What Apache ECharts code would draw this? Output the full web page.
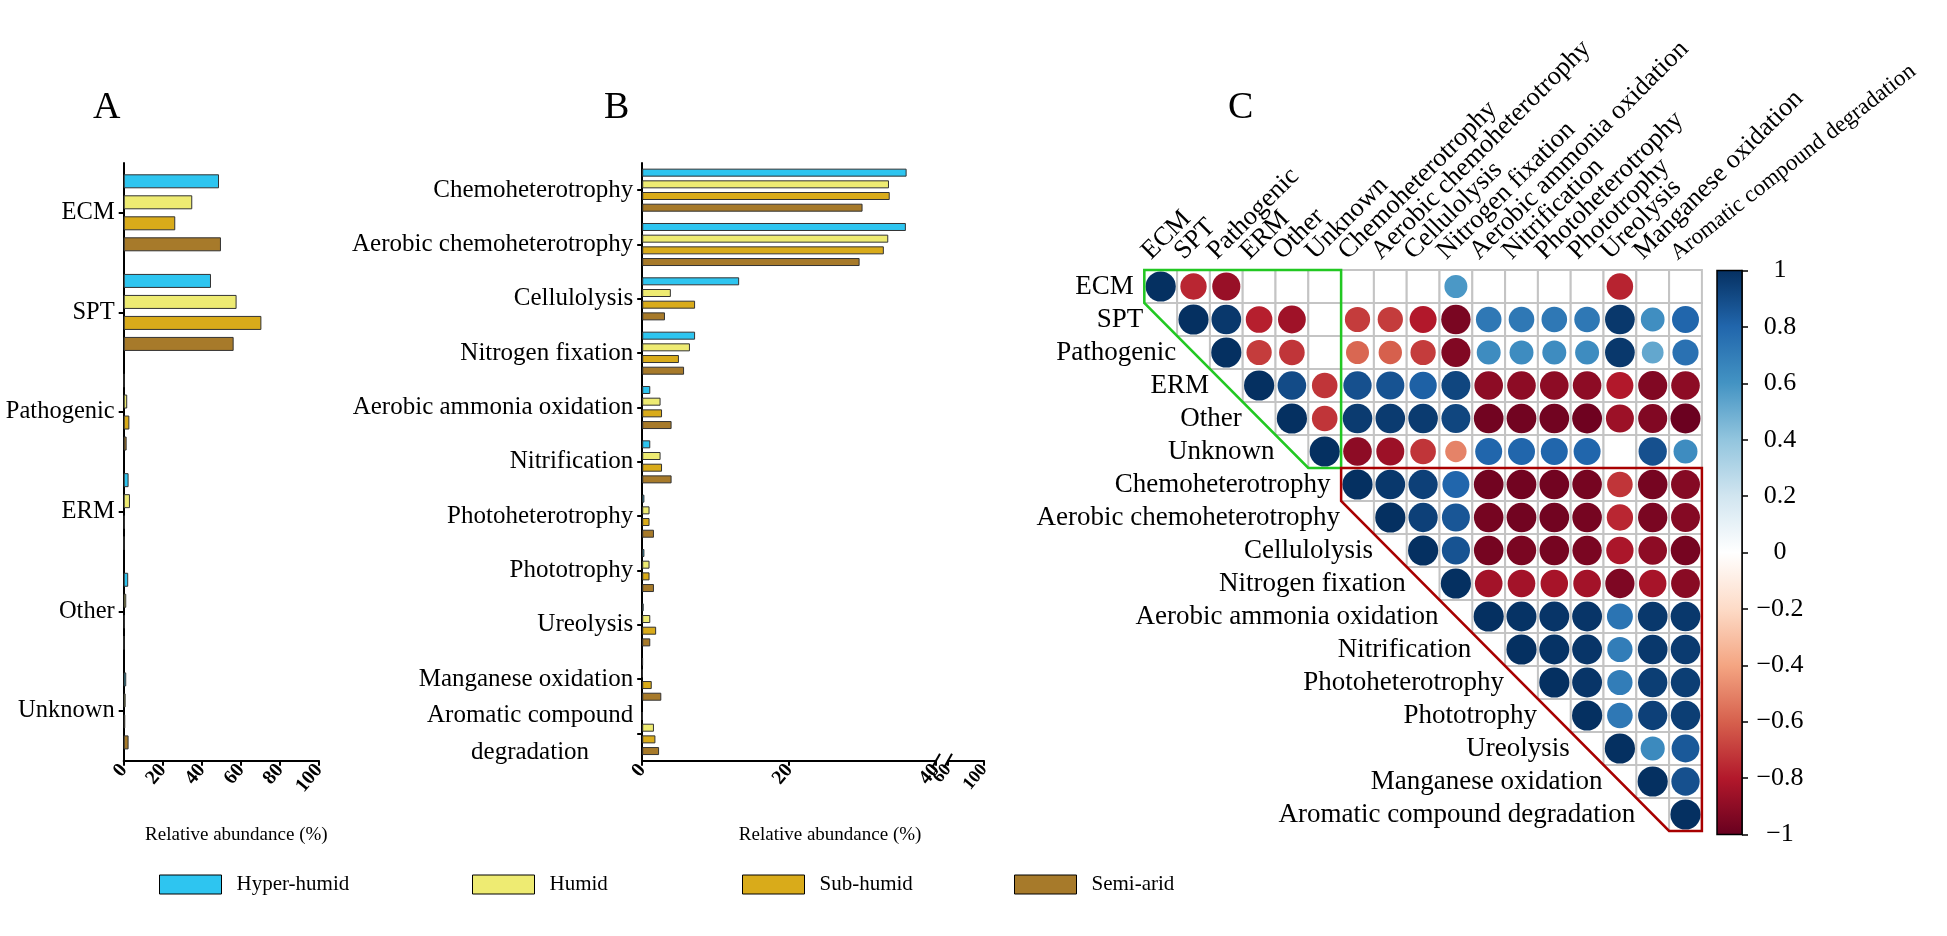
<!DOCTYPE html>
<html><head><meta charset="utf-8">
<script src="https://cdn.jsdelivr.net/npm/echarts@6/dist/echarts.min.js"></script>
<style>html,body{margin:0;padding:0;background:#fff}#chart{width:1947px;height:936px}</style>
</head><body><div id="chart"></div>
<script>
// ---------------- data ----------------
const seriesNames = ['Hyper-humid', 'Humid', 'Sub-humid', 'Semi-arid'];
const seriesColors = ['#2ec5f0', '#eeeb72', '#d9ab1a', '#a77a2a'];

// Panel A
const catsA = ['ECM', 'SPT', 'Pathogenic', 'ERM', 'Other', 'Unknown'];
const hyperA = [48.8, 44.7, 0.3, 2.5, 2.3, 1.3];
const humidA = [35.1, 57.8, 1.8, 3.2, 1.3, 1.0];
const subA   = [26.4, 70.5, 2.9, 0.5, 0.5, 0.8];
const semiA  = [49.8, 56.3, 1.5, 0.3, 0.2, 2.5];
const ticksA = [0, 100, 20];          // min, max, step

// Panel B
const catsB = ['Chemoheterotrophy', 'Aerobic chemoheterotrophy', 'Cellulolysis', 'Nitrogen fixation',
  'Aerobic ammonia oxidation', 'Nitrification', 'Photoheterotrophy', 'Phototrophy', 'Ureolysis',
  'Manganese oxidation', 'Aromatic compound\ndegradation'];
const hyperB = [36.0, 35.9, 13.2, 7.2, 1.1, 1.1, 0.3, 0.3, 0.2, 0.1, 0];
const humidB = [33.6, 33.5, 3.9, 6.5, 2.5, 2.5, 1.0, 1.0, 1.1, 0, 1.6];
const subB   = [33.7, 32.9, 7.2, 5.0, 2.7, 2.7, 1.0, 1.0, 1.9, 1.3, 1.8];
const semiB  = [30.0, 29.6, 3.1, 5.7, 4.0, 4.0, 1.6, 1.6, 1.1, 2.6, 2.3];
const ticksB1 = [0, 40, 20];
const ticksB2 = [60, 100, 20];

// Panel C (upper triangle, each row starts at its diagonal; null = blank cell)
const corrNames = ['ECM', 'SPT', 'Pathogenic', 'ERM', 'Other', 'Unknown',
  'Chemoheterotrophy', 'Aerobic chemoheterotrophy', 'Cellulolysis', 'Nitrogen fixation',
  'Aerobic ammonia oxidation', 'Nitrification', 'Photoheterotrophy', 'Phototrophy', 'Ureolysis',
  'Manganese oxidation', 'Aromatic compound degradation'];
const corrRows = [
  [1, -0.76, -0.87, null, null, null, null, null, null, 0.58, null, null, null, null, -0.77, null, null],
  [1, 0.97, -0.78, -0.85, null, -0.7, -0.7, -0.8, -0.95, 0.72, 0.72, 0.72, 0.72, 0.97, 0.62, 0.8],
  [1, -0.7, -0.72, null, -0.58, -0.6, -0.7, -0.93, 0.63, 0.63, 0.63, 0.63, 0.97, 0.52, 0.75],
  [1, 0.9, -0.72, 0.88, 0.87, 0.82, 0.92, -0.9, -0.9, -0.9, -0.9, -0.8, -0.93, -0.9],
  [1, -0.72, 0.96, 0.96, 0.96, 0.92, -0.97, -0.97, -0.97, -0.98, -0.86, -0.93, -0.99],
  [1, -0.9, -0.86, -0.72, -0.5, 0.8, 0.8, 0.8, 0.8, null, 0.88, 0.63],
  [1, 0.97, 0.94, 0.8, -0.97, -0.97, -0.97, -0.96, -0.72, -0.96, -0.92],
  [1, 0.94, 0.86, -0.96, -0.97, -0.97, -0.96, -0.76, -0.95, -0.92],
  [1, 0.87, -0.96, -0.95, -0.96, -0.95, -0.82, -0.9, -0.96],
  [1, -0.84, -0.84, -0.83, -0.84, -0.94, -0.83, -0.91],
  [1, 0.99, 0.98, 0.98, 0.74, 0.97, 0.97],
  [1, 0.99, 0.98, 0.7, 0.97, 0.96],
  [1, 0.98, 0.7, 0.95, 0.95],
  [1, 0.72, 0.94, 0.95],
  [1, 0.64, 0.85],
  [1, 0.88],
  [1]
];
const groupASize = catsA.length;
const corrTicks = [-1, 1, 0.2];
const rdbu = ['#67001F', '#B2182B', '#D6604D', '#F4A582', '#FDDBC7', '#FFFFFF',
  '#D1E5F0', '#92C5DE', '#4393C3', '#2166AC', '#053061'];

// ---------------- layout / style ----------------
const SERIF = '"Liberation Serif", "Times New Roman", serif';
const gA = {left: 123.7, top: 163, width: 195.3, height: 597.7};
const gB1 = {left: 642.2, top: 163, width: 293.8, height: 597.7};
const gB2 = {left: 948, top: 163, width: 36, height: 597.7};
const gC = {left: 1144.3, top: 270, width: 557.6, height: 561};
const gCB = {left: 1717, top: 270.6, width: 25, height: 563.8};
const legendLefts = [159, 472, 742, 1014];

const cellData = [], circleData = [];
corrRows.forEach((row, r) => row.forEach((v, k) => {
  const c = r + k;
  cellData.push([c, r]);
  if (v !== null) circleData.push([c, r, v]);
}));

const axisLineBlack = {show: true, lineStyle: {color: '#000', width: 2}};
const tickLabelBold = {fontFamily: SERIF, fontWeight: 'bold', fontSize: 20, color: '#000', rotate: 50, margin: 6,
  showMinLabel: true, showMaxLabel: true, hideOverlap: false};

function barSeries(name, color, data, xi, bw, gap) {
  return {
    type: 'bar', name: name, data: data, xAxisIndex: xi, yAxisIndex: xi,
    barWidth: bw, barGap: gap,
    itemStyle: {color: color, borderColor: '#333', borderWidth: 1},
    emphasis: {disabled: true}, animation: false
  };
}

function edgePt(api, k, m) {
  const o = api.coord([0, 0]);
  const s = api.size([1, 1]);
  return [o[0] - s[0] / 2 + k * s[0], o[1] - s[1] / 2 + m * s[1]];
}

const N = corrNames.length, n = groupASize;
const letterStyle = {fontFamily: SERIF, fontSize: 38, fontWeight: 'normal', color: '#000'};

const option = {
  animation: false,
  backgroundColor: '#fff',
  title: [
    {text: 'A', left: 93, top: 89, padding: 0, textStyle: letterStyle},
    {text: 'B', left: 604, top: 89, padding: 0, textStyle: letterStyle},
    {text: 'C', left: 1228, top: 89, padding: 0, textStyle: letterStyle}
  ],
  legend: seriesNames.map((nm, i) => ({
    data: [nm], left: legendLefts[i], top: 874, padding: 0, icon: 'rect', itemWidth: 62, itemHeight: 19,
    itemStyle: {borderColor: '#000', borderWidth: 1},
    textStyle: {fontFamily: SERIF, fontSize: 21, color: '#000', padding: [0, 0, 0, 10]},
    selectedMode: false
  })),
  grid: [gA, gB1, gB2, gC, gCB].map(g => Object.assign({outerBoundsMode: 'none', containLabel: false}, g)),
  xAxis: [
    {gridIndex: 0, type: 'value', min: ticksA[0], max: ticksA[1], interval: ticksA[2],
      axisLine: axisLineBlack, axisTick: {show: true, length: 5, lineStyle: {color: '#000', width: 2}},
      axisLabel: tickLabelBold, splitLine: {show: false},
      name: 'Relative abundance (%)', nameLocation: 'middle', nameGap: 65,
      nameTextStyle: {fontFamily: SERIF, fontSize: 19, color: '#000', padding: [0, 0, 0, 30]}},
    {gridIndex: 1, type: 'value', min: ticksB1[0], max: ticksB1[1], interval: ticksB1[2],
      axisLine: axisLineBlack, axisTick: {show: true, length: 5, lineStyle: {color: '#000', width: 2}},
      axisLabel: tickLabelBold, splitLine: {show: false},
      name: 'Relative abundance (%)', nameLocation: 'middle', nameGap: 65,
      nameTextStyle: {fontFamily: SERIF, fontSize: 19, color: '#000', padding: [0, 0, 0, 82]}},
    {gridIndex: 2, type: 'value', min: ticksB2[0], max: ticksB2[1], interval: ticksB2[2],
      axisLine: axisLineBlack, axisTick: {show: true, length: 5, lineStyle: {color: '#000', width: 2}},
      axisLabel: Object.assign({}, tickLabelBold, {fontSize: 18}), splitLine: {show: false}},
    {gridIndex: 3, type: 'category', data: corrNames, position: 'top',
      axisLine: {show: false}, axisTick: {show: false}, splitLine: {show: false}, axisLabel: {show: false}},
    {gridIndex: 4, type: 'category', data: ['cb'], show: false}
  ],
  yAxis: [
    {gridIndex: 0, type: 'category', data: catsA, inverse: true,
      axisLine: axisLineBlack, axisTick: {show: true, alignWithLabel: true, length: 5, lineStyle: {color: '#000', width: 2}},
      axisLabel: {fontFamily: SERIF, fontSize: 24.5, color: '#000', margin: 9}},
    {gridIndex: 1, type: 'category', data: catsB, inverse: true,
      axisLine: axisLineBlack, axisTick: {show: true, alignWithLabel: true, length: 5, lineStyle: {color: '#000', width: 2}},
      axisLabel: {fontFamily: SERIF, fontSize: 25, color: '#000', margin: 9,
        formatter: v => v.indexOf('\n') >= 0 ? v.split('\n').map(t => '{c|' + t + '}').join('\n') : v,
        rich: {c: {fontFamily: SERIF, fontSize: 25, color: '#000', align: 'center', lineHeight: 37}}}},
    {gridIndex: 2, type: 'category', data: catsB, inverse: true, show: false},
    {gridIndex: 3, type: 'category', data: corrNames, inverse: true, show: false},
    {gridIndex: 4, type: 'value', min: corrTicks[0], max: corrTicks[1], interval: corrTicks[2], position: 'right',
      axisLine: {show: true, lineStyle: {color: '#000', width: 1.5}},
      axisTick: {show: true, length: 6, lineStyle: {color: '#000', width: 1.5}},
      splitLine: {show: false},
      axisLabel: {fontFamily: SERIF, fontSize: 26, color: '#000', margin: 38, align: 'center',
        showMinLabel: true, showMaxLabel: true,
        formatter: v => { const r = Math.round(v * 10) / 10; return r === 0 ? '0' : (r < 0 ? '\u2212' : '') + Math.abs(r); }}}
  ],
  visualMap: {
    type: 'continuous', min: -1, max: 1, dimension: 2, seriesIndex: 9, show: false,
    inRange: {color: rdbu}
  },
  series: [
    barSeries(seriesNames[0], seriesColors[0], hyperA, 0, 14, '50%'),
    barSeries(seriesNames[1], seriesColors[1], humidA, 0, 14, '50%'),
    barSeries(seriesNames[2], seriesColors[2], subA, 0, 14, '50%'),
    barSeries(seriesNames[3], seriesColors[3], semiA, 0, 14, '50%'),
    barSeries(seriesNames[0], seriesColors[0], hyperB, 1, 8, '46%'),
    barSeries(seriesNames[1], seriesColors[1], humidB, 1, 8, '46%'),
    barSeries(seriesNames[2], seriesColors[2], subB, 1, 8, '46%'),
    barSeries(seriesNames[3], seriesColors[3], semiB, 1, 8, '46%'),
    // 8: cells
    {type: 'custom', xAxisIndex: 3, yAxisIndex: 3, data: cellData, z: 1, silent: true,
      renderItem: (params, api) => {
        const p = api.coord([api.value(0), api.value(1)]);
        const s = api.size([1, 1]);
        return {type: 'rect', shape: {x: p[0] - s[0] / 2, y: p[1] - s[1] / 2, width: s[0], height: s[1]},
          style: {fill: '#fff', stroke: '#c4c4c4', lineWidth: 2}};
      }},
    // 9: circles
    {type: 'custom', xAxisIndex: 3, yAxisIndex: 3, data: circleData, z: 2, silent: true,
      encode: {x: 0, y: 1},
      renderItem: (params, api) => {
        const p = api.coord([api.value(0), api.value(1)]);
        const s = api.size([1, 1]);
        const v = api.value(2);
        const r = 0.46 * Math.min(s[0], s[1]) * Math.sqrt(Math.abs(v));
        return {type: 'circle', shape: {cx: p[0], cy: p[1], r: r}, style: {fill: api.visual('color')}};
      }},
    // 10: group outlines
    {type: 'custom', xAxisIndex: 3, yAxisIndex: 3, data: [[0, 0]], z: 3, silent: true,
      renderItem: (params, api) => {
        const green = [[0, 0], [n, 0], [n, n], [n - 1, n], [0, 1]].map(q => edgePt(api, q[0], q[1]));
        const red = [[n, n], [N, n], [N, N], [N - 1, N], [n, n + 1]].map(q => edgePt(api, q[0], q[1]));
        return {type: 'group', children: [
          {type: 'polygon', shape: {points: green}, style: {fill: 'none', stroke: '#22c822', lineWidth: 2.5}},
          {type: 'polygon', shape: {points: red}, style: {fill: 'none', stroke: '#a80000', lineWidth: 2.5}}
        ]};
      }},
    // 11: row labels
    {type: 'custom', xAxisIndex: 3, yAxisIndex: 3, data: corrNames.map((nm, i) => [i, i]), z: 3, silent: true,
      renderItem: (params, api) => {
        const i = params.dataIndex;
        const s = api.size([1, 1]);
        const p = api.coord([i, i]);
        const gap = (i === 0 || i === n) ? 0.32 : 1.03;
        return {type: 'text', style: {text: corrNames[i], x: p[0] - s[0] / 2 - gap * s[0], y: p[1],
          align: 'right', verticalAlign: 'middle', fontFamily: SERIF, fontSize: 27, fill: '#000'}};
      }},
    // 12: column labels (rotated, above the matrix); the last one is squeezed to fit the page
    {type: 'custom', xAxisIndex: 3, yAxisIndex: 3, data: corrNames.map((nm, i) => [i, 0]), z: 3, silent: true,
      renderItem: (params, api) => {
        const i = params.dataIndex;
        const s = api.size([1, 1]);
        const p = api.coord([i, 0]);
        const last = i === N - 1;
        return {type: 'text', x: p[0] - 5, y: p[1] - s[1] / 2 - 5, rotation: (last ? 38 : 45) * Math.PI / 180,
          style: {text: corrNames[i], x: 0, y: 0, align: 'left', verticalAlign: 'bottom',
            fontFamily: SERIF, fontSize: last ? 23 : 26.5, fill: '#000'}};
      }},
    // 13: colour bar
    {type: 'custom', xAxisIndex: 4, yAxisIndex: 4, data: [[0, corrTicks[1]]], z: 2, silent: true,
      renderItem: (params, api) => {
        const top = api.coord([0, corrTicks[1]]);
        const bot = api.coord([0, corrTicks[0]]);
        const w = api.size([1, 0])[0];
        const stops = rdbu.map((c, i) => ({offset: i / (rdbu.length - 1), color: rdbu[rdbu.length - 1 - i]}));
        return {type: 'rect', shape: {x: top[0] - w / 2, y: top[1], width: w, height: bot[1] - top[1]},
          style: {fill: {type: 'linear', x: 0, y: 0, x2: 0, y2: 1, colorStops: stops}, stroke: '#000', lineWidth: 1.5}};
      }}
  ]
};

const chart = echarts.init(document.getElementById('chart'), null, {renderer: 'canvas'});
chart.setOption(option);

// axis-break marks on panel B
const xEnd = chart.convertToPixel({xAxisIndex: 1}, ticksB1[1]);
const xStart = chart.convertToPixel({xAxisIndex: 2}, ticksB2[0]);
const yAxisB = gB1.top + gB1.height;
chart.setOption({graphic: [xEnd, xStart].map(x => ({
  type: 'line', shape: {x1: x - 4, y1: yAxisB + 7, x2: x + 4, y2: yAxisB - 7},
  style: {stroke: '#000', lineWidth: 2}, z: 10
}))});
</script></body></html>
